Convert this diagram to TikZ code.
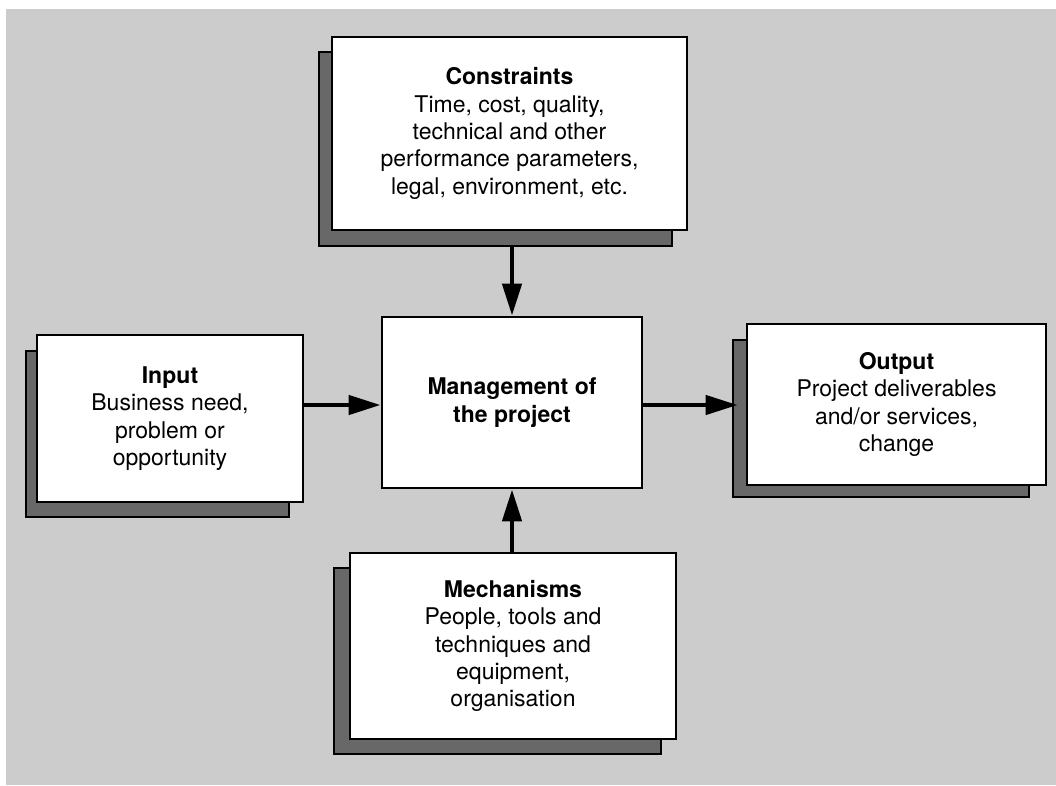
\documentclass[tikz,border=0pt]{standalone}
\usepackage{fontspec}
\setmainfont{TeX Gyre Heros}
\usetikzlibrary{arrows.meta}
\definecolor{bggray}{RGB}{204,204,204}
\definecolor{shadowgray}{RGB}{104,104,104}
\tikzset{
  panel/.style={draw=black, line width=2.8pt, fill=white, rectangle, inner sep=0pt,
    align=center, font=\fontsize{23}{27.4}\selectfont},
  backing/.style={draw=black, line width=2.8pt, fill=shadowgray, rectangle, inner sep=0pt},
  flow/.style={line width=4.5pt, -{Triangle[length=32pt,width=19pt]}}
}
\begin{document}
\begin{tikzpicture}[x=1pt,y=-1pt]
\useasboundingbox (0,0) rectangle (1056,785);
\fill[bggray] (6,9) rectangle (1056,785);

% Constraints
\node[backing, minimum width=353pt, minimum height=194pt] (cons-sh) at (495.5,149) {};
\node[panel, minimum width=355pt, minimum height=193pt] (cons) at (509.5,133.5)
  {\textbf{Constraints}\\Time, cost, quality,\\technical and other\\performance parameters,\\legal, environment, etc.};

% Input
\node[backing, minimum width=263pt, minimum height=166pt] (inp-sh) at (157.5,434) {};
\node[panel, minimum width=266pt, minimum height=167pt] (inp) at (170,418.5)
  {\textbf{Input}\\Business need,\\problem or\\opportunity};

% Management of the project
\node[panel, minimum width=260pt, minimum height=171pt] (mgmt) at (512,402.5)
  {\textbf{Management of}\\\textbf{the project}};

% Output
\node[backing, minimum width=296pt, minimum height=157pt] (out-sh) at (881,418.5) {};
\node[panel, minimum width=299pt, minimum height=161pt] (out) at (896.5,404.5)
  {\textbf{Output}\\Project deliverables\\and/or services,\\change};

% Mechanisms
\node[backing, minimum width=327pt, minimum height=186pt] (mech-sh) at (497.5,661) {};
\node[panel, minimum width=326pt, minimum height=186pt] (mech) at (513,646)
  {\textbf{Mechanisms}\\People, tools and\\techniques and\\equipment,\\organisation};

% Connectors
\coordinate (lane) at (0,405);
\draw[flow] (mgmt.north |- cons-sh.south) -- (mgmt.north);
\draw[flow] (mgmt.south |- mech.north) -- (mgmt.south);
\draw[flow] (inp.east |- lane) -- (mgmt.west |- lane);
\draw[flow] (mgmt.east |- lane) -- ([xshift=6pt]out-sh.west |- lane);
\end{tikzpicture}
\end{document}
